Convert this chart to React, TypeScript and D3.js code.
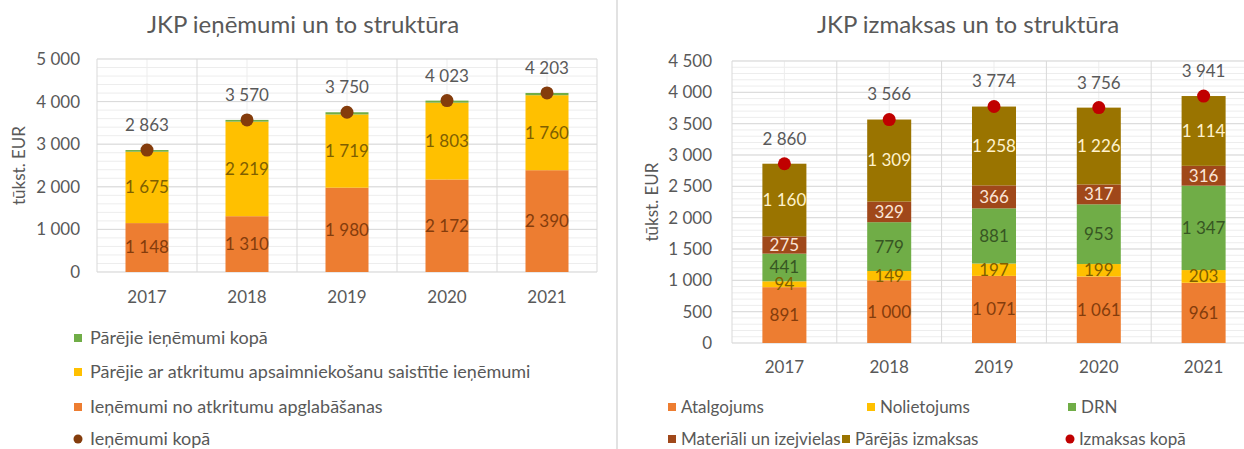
import React from "react";
import * as d3 from "d3";

// ---------- data ----------
const years = ["2017", "2018", "2019", "2020", "2021"];

// Left chart: JKP ieņēmumi
const revDisposal = [1148, 1310, 1980, 2172, 2390];
const revOtherWaste = [1675, 2219, 1719, 1803, 1760];
const revOther = [40, 41, 51, 48, 53];
const revTotal = [2863, 3570, 3750, 4023, 4203];
const leftTicks = [0, 1000, 2000, 3000, 4000, 5000];

// Right chart: JKP izmaksas
const costSalary = [891, 1000, 1071, 1061, 961];
const costDepreciation = [94, 149, 197, 199, 203];
const costDRN = [441, 779, 881, 953, 1347];
const costMaterials = [275, 329, 366, 317, 316];
const costOther = [1160, 1309, 1258, 1226, 1114];
const costTotal = [2860, 3566, 3774, 3756, 3941];
const rightTicks = [0, 500, 1000, 1500, 2000, 2500, 3000, 3500, 4000, 4500];

const FONT = "Lato, 'Open Sans', sans-serif";
const GREY = "#595959";

const fmt = (v: number) => d3.format(",")(v).replace(/,/g, " ");

type Series = { name: string; values: number[]; color: string; labelColor: string; showLabel: boolean };

function StackChart(props: {
  series: Series[];
  totals: number[];
  totalColor: string;
  ticks: number[];
  minorStep: number;
  x0: number;
  x1: number;
  y0: number;
  y1: number;
  padInner: number;
  tickRight: number;
  axisTitleX: number;
  title: string;
  titleX: number;
  xLabelY: number;
}) {
  const { series, totals, totalColor, ticks, minorStep, x0, x1, y0, y1, padInner } = props;
  const max = ticks[ticks.length - 1];
  const x = d3.scaleBand<string>().domain(years).range([x0, x1]).paddingInner(padInner).paddingOuter(padInner / 2);
  const y = d3.scaleLinear().domain([0, max]).range([y0, y1]);
  const minor = d3.range(0, max + 0.1, minorStep);
  const step = x.step();
  const boundaries = d3.range(0, years.length + 1).map((i) => x0 + i * step);
  const centers = years.map((yr) => (x(yr) as number) + x.bandwidth() / 2);

  const stackData = years.map((yr, i) => {
    const o: any = { year: yr };
    series.forEach((s) => (o[s.name] = s.values[i]));
    return o;
  });
  const stacked = d3.stack<any>().keys(series.map((s) => s.name))(stackData);

  return (
    <g>
      <text x={props.titleX} y={33} textAnchor="middle" fontSize={24} fill={GREY} fontFamily={FONT}>
        {props.title}
      </text>
      {/* minor grid */}
      {minor.map((v) => (
        <line key={"mh" + v} x1={x0} x2={x1} y1={y(v)} y2={y(v)} stroke="#EDEDED" strokeWidth={1} />
      ))}
      {centers.map((c, i) => (
        <line key={"mv" + i} x1={c} x2={c} y1={y1} y2={y0} stroke="#EDEDED" strokeWidth={1} />
      ))}
      {/* major grid */}
      {ticks.map((v) => (
        <line key={"h" + v} x1={x0} x2={x1} y1={y(v)} y2={y(v)} stroke="#D9D9D9" strokeWidth={1} />
      ))}
      {boundaries.map((b, i) => (
        <line key={"v" + i} x1={b} x2={b} y1={y1} y2={y0} stroke="#D9D9D9" strokeWidth={1} />
      ))}
      {/* tick labels */}
      {ticks.map((v) => (
        <text key={"t" + v} x={props.tickRight} y={y(v)} dy="0.35em" textAnchor="end" fontSize={17} fill={GREY} fontFamily={FONT}>
          {fmt(v)}
        </text>
      ))}
      <text
        transform={`translate(${props.axisTitleX},${(y0 + y1) / 2}) rotate(-90)`}
        textAnchor="middle"
        dy="0.35em"
        fontSize={17}
        fill={GREY}
        fontFamily={FONT}
      >
        tūkst. EUR
      </text>
      {years.map((yr, i) => (
        <text key={"x" + yr} x={centers[i]} y={props.xLabelY} dy="0.35em" textAnchor="middle" fontSize={17} fill={GREY} fontFamily={FONT}>
          {yr}
        </text>
      ))}
      {/* bars */}
      {stacked.map((layer, si) =>
        layer.map((d, i) => (
          <rect
            key={"r" + si + "-" + i}
            x={x(years[i])}
            width={x.bandwidth()}
            y={y(d[1])}
            height={y(d[0]) - y(d[1])}
            fill={series[si].color}
          />
        ))
      )}
      {stacked.map((layer, si) =>
        series[si].showLabel
          ? layer.map((d, i) => (
              <text
                key={"l" + si + "-" + i}
                x={centers[i]}
                y={(y(d[0]) + y(d[1])) / 2}
                dy="0.35em"
                textAnchor="middle"
                fontSize={17}
                fill={series[si].labelColor}
                fontFamily={FONT}
              >
                {fmt(series[si].values[i])}
              </text>
            ))
          : null
      )}
      {/* totals */}
      {totals.map((t, i) => (
        <g key={"tot" + i}>
          <circle cx={centers[i]} cy={y(t)} r={6.5} fill={totalColor} />
          <text x={centers[i]} y={y(t) - 25} dy="0.35em" textAnchor="middle" fontSize={17} fill={GREY} fontFamily={FONT}>
            {fmt(t)}
          </text>
        </g>
      ))}
    </g>
  );
}

function LegendItem(props: { x: number; y: number; color: string; label: string; circle?: boolean; textDx?: number; size?: number }) {
  const { x, y, color, label, circle } = props;
  return (
    <g>
      {circle ? (
        <circle cx={x + 4} cy={y} r={4.5} fill={color} />
      ) : (
        <rect x={x} y={y - 4} width={8} height={8} fill={color} />
      )}
      <text x={x + (props.textDx ?? 13)} y={y} dy="0.35em" fontSize={props.size ?? 17} fill={GREY} fontFamily={FONT}>
        {label}
      </text>
    </g>
  );
}

export default function App() {
  const leftSeries: Series[] = [
    { name: "Ieņēmumi no atkritumu apglabāšanas", values: revDisposal, color: "#ED7D31", labelColor: "#843C0C", showLabel: true },
    { name: "Pārējie ar atkritumu apsaimniekošanu saistītie ieņēmumi", values: revOtherWaste, color: "#FFC000", labelColor: "#7F5F00", showLabel: true },
    { name: "Pārējie ieņēmumi kopā", values: revOther, color: "#70AD47", labelColor: "#375623", showLabel: false },
  ];
  const rightSeries: Series[] = [
    { name: "Atalgojums", values: costSalary, color: "#ED7D31", labelColor: "#843C0C", showLabel: true },
    { name: "Nolietojums", values: costDepreciation, color: "#FFC000", labelColor: "#7F5F00", showLabel: true },
    { name: "DRN", values: costDRN, color: "#70AD47", labelColor: "#375623", showLabel: true },
    { name: "Materiāli un izejvielas", values: costMaterials, color: "#A0481A", labelColor: "#FBE5D6", showLabel: true },
    { name: "Pārējās izmaksas", values: costOther, color: "#9A7400", labelColor: "#FFF2CC", showLabel: true },
  ];

  return (
    <svg
      width={1244}
      height={449}
      style={{ position: "absolute", left: 0, top: 0, background: "#fff" }}
    >
      <rect x={0} y={0} width={1244} height={449} fill="#fff" />
      <line x1={617} x2={617} y1={0} y2={449} stroke="#D9D9D9" strokeWidth={1.5} />
      <StackChart
        series={leftSeries}
        totals={revTotal}
        totalColor="#843C0C"
        ticks={leftTicks}
        minorStep={200}
        x0={97}
        x1={597}
        y0={272}
        y1={59}
        padInner={0.57}
        tickRight={80}
        axisTitleX={19}
        title="JKP ieņēmumi un to struktūra"
        titleX={303}
        xLabelY={297}
      />
      <StackChart
        series={rightSeries}
        totals={costTotal}
        totalColor="#C00000"
        ticks={rightTicks}
        minorStep={100}
        x0={732}
        x1={1256}
        y0={343}
        y1={61}
        padInner={0.58}
        tickRight={712}
        axisTitleX={652}
        title="JKP izmaksas un to struktūra"
        titleX={968}
        xLabelY={367}
      />
      {/* left legend */}
      <LegendItem x={74} y={338} color="#70AD47" label="Pārējie ieņēmumi kopā" textDx={16} size={18} />
      <LegendItem x={74} y={372} color="#FFC000" label="Pārējie ar atkritumu apsaimniekošanu saistītie ieņēmumi" textDx={16} size={18} />
      <LegendItem x={74} y={407} color="#ED7D31" label="Ieņēmumi no atkritumu apglabāšanas" textDx={16} size={18} />
      <LegendItem x={74} y={439} color="#843C0C" label="Ieņēmumi kopā" circle textDx={16} size={18} />
      {/* right legend */}
      <LegendItem x={668} y={407} color="#ED7D31" label="Atalgojums" />
      <LegendItem x={867} y={407} color="#FFC000" label="Nolietojums" />
      <LegendItem x={1068} y={407} color="#70AD47" label="DRN" />
      <LegendItem x={668} y={439} color="#A0481A" label="Materiāli un izejvielas" />
      <LegendItem x={842} y={439} color="#9A7400" label="Pārējās izmaksas" />
      <LegendItem x={1066} y={439} color="#C00000" label="Izmaksas kopā" circle />
    </svg>
  );
}
